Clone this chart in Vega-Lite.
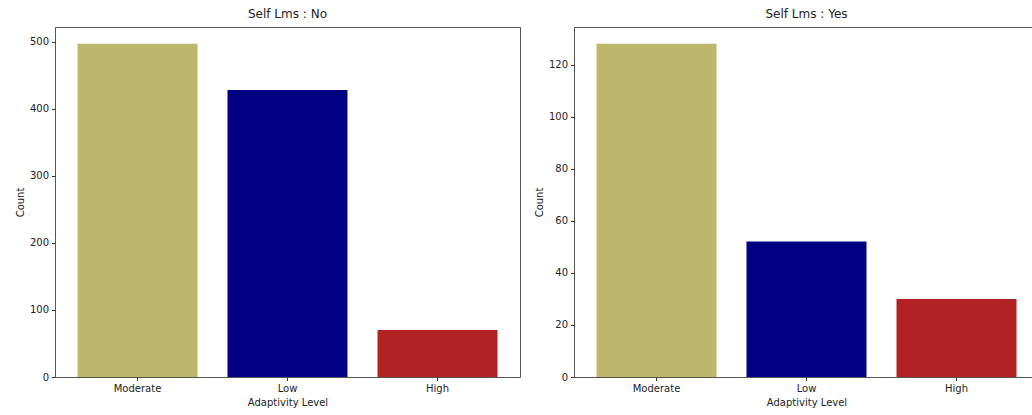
{
  "$schema": "https://vega.github.io/schema/vega-lite/v6.json",
  "background": "white",
  "padding": {"left": 14, "top": 7, "right": 0, "bottom": 0},
  "config": {
    "font": "DejaVu Sans",
    "view": {"stroke": "#555555", "strokeWidth": 1},
    "axis": {
      "grid": false,
      "domain": false,
      "tickColor": "#333333",
      "tickSize": 3.5,
      "labelFontSize": 10,
      "labelColor": "#222222",
      "labelPadding": 3,
      "titleFontSize": 10,
      "titleFontWeight": "normal",
      "titleColor": "#222222",
      "titlePadding": 4
    },
    "title": {"fontSize": 12, "fontWeight": "normal", "color": "#222222", "offset": 6},
    "concat": {"spacing": 12}
  },
  "datasets": {
    "counts": [
      {"self_lms": "No", "level": "Moderate", "count": 497},
      {"self_lms": "No", "level": "Low", "count": 428},
      {"self_lms": "No", "level": "High", "count": 70},
      {"self_lms": "Yes", "level": "Moderate", "count": 128},
      {"self_lms": "Yes", "level": "Low", "count": 52},
      {"self_lms": "Yes", "level": "High", "count": 30}
    ]
  },
  "hconcat": [
    {
      "title": "Self Lms : No",
      "width": 465,
      "height": 350,
      "data": {"name": "counts"},
      "transform": [{"filter": "datum.self_lms === 'No'"}],
      "mark": {"type": "bar"},
      "encoding": {
        "x": {
          "field": "level", "type": "nominal",
          "sort": ["Moderate", "Low", "High"],
          "scale": {"paddingInner": 0.2, "paddingOuter": 0.15},
          "axis": {"labelAngle": 0, "title": "Adaptivity Level"}
        },
        "y": {
          "field": "count", "type": "quantitative",
          "scale": {"domain": [0, 521.85], "nice": false},
          "axis": {"values": [0, 100, 200, 300, 400, 500], "title": "Count"}
        },
        "color": {
          "field": "level", "type": "nominal",
          "scale": {"domain": ["Moderate", "Low", "High"], "range": ["#BDB76B", "#000080", "#B22222"]},
          "legend": null
        }
      }
    },
    {
      "title": "Self Lms : Yes",
      "width": 465,
      "height": 350,
      "data": {"name": "counts"},
      "transform": [{"filter": "datum.self_lms === 'Yes'"}],
      "mark": {"type": "bar"},
      "encoding": {
        "x": {
          "field": "level", "type": "nominal",
          "sort": ["Moderate", "Low", "High"],
          "scale": {"paddingInner": 0.2, "paddingOuter": 0.15},
          "axis": {"labelAngle": 0, "title": "Adaptivity Level"}
        },
        "y": {
          "field": "count", "type": "quantitative",
          "scale": {"domain": [0, 134.4], "nice": false},
          "axis": {"values": [0, 20, 40, 60, 80, 100, 120], "title": "Count"}
        },
        "color": {
          "field": "level", "type": "nominal",
          "scale": {"domain": ["Moderate", "Low", "High"], "range": ["#BDB76B", "#000080", "#B22222"]},
          "legend": null
        }
      }
    }
  ],
  "resolve": {"scale": {"y": "independent", "color": "shared"}}
}
